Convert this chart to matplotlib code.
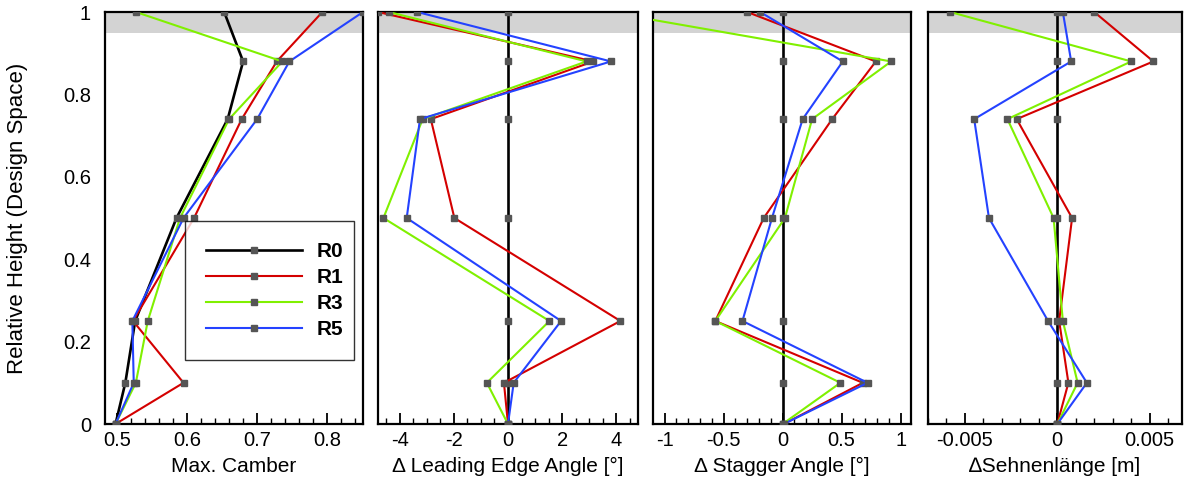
import numpy as np
import matplotlib
matplotlib.use('Agg')
import matplotlib.pyplot as plt
from matplotlib.ticker import MultipleLocator

plt.rcParams['font.family'] = ['Liberation Sans', 'DejaVu Sans']
plt.rcParams['axes.unicode_minus'] = False

# relative blade height of the design sections
height = [1.0, 0.88, 0.74, 0.5, 0.25, 0.1, 0.0]

# max. camber per design
camber_r0 = [0.653, 0.680, 0.658, 0.585, 0.526, 0.512, 0.498]
camber_r1 = [0.793, 0.728, 0.678, 0.610, 0.523, 0.595, 0.498]
camber_r3 = [0.527, 0.736, 0.660, 0.590, 0.544, 0.527, 0.498]
camber_r5 = [0.851, 0.746, 0.700, 0.595, 0.522, 0.524, 0.498]

# delta leading edge angle [deg]
le_r0 = [0, 0, 0, 0, 0, 0, 0]
le_r1 = [-4.8, 3.15, -2.85, -1.98, 4.15, -0.15, 0.0]
le_r3 = [-4.4, 2.9, -3.15, -4.6, 1.53, -0.78, 0.0]
le_r5 = [-3.35, 3.8, -3.25, -3.74, 1.96, 0.21, 0.0]

# delta stagger angle [deg]
st_r0 = [0, 0, 0, 0, 0, 0, 0]
st_r1 = [-0.30, 0.79, 0.42, -0.16, -0.57, 0.68, 0.01]
st_r3 = [-1.48, 0.92, 0.25, 0.02, -0.57, 0.49, 0.0]
st_r5 = [-0.19, 0.51, 0.17, -0.09, -0.34, 0.72, 0.01]

# delta chord length [m]
ch_r0 = [0, 0, 0, 0, 0, 0, 0]
ch_r1 = [0.0020, 0.0052, -0.0022, 0.0008, 0.0001, 0.0006, 0.0]
ch_r3 = [-0.0058, 0.0040, -0.0027, -0.0002, 0.0003, 0.0011, 0.0]
ch_r5 = [0.0003, 0.00075, -0.0045, -0.0037, -0.0005, 0.0016, 0.0]

labels = ['R0', 'R1', 'R3', 'R5']
colors = ['black', '#d40000', '#80f000', '#2442ff']
widths = [1.9, 1.5, 1.5, 1.5]

panels = [
    ([camber_r0, camber_r1, camber_r3, camber_r5], 'Max. Camber',
     (0.483, 0.851), [0.5, 0.6, 0.7, 0.8], ['0.5', '0.6', '0.7', '0.8'], 0.02),
    ([le_r0, le_r1, le_r3, le_r5], '\u0394 Leading Edge Angle [\u00b0]',
     (-4.8, 4.8), [-4, -2, 0, 2, 4], ['-4', '-2', '0', '2', '4'], 0.5),
    ([st_r0, st_r1, st_r3, st_r5], '\u0394 Stagger Angle [\u00b0]',
     (-1.098, 1.088), [-1, -0.5, 0, 0.5, 1], ['-1', '-0.5', '0', '0.5', '1'], 0.1),
    ([ch_r0, ch_r1, ch_r3, ch_r5], '\u2206Sehnenl\u00e4nge [m]',
     (-0.0070, 0.00675), [-0.005, 0, 0.005], ['-0.005', '0', '0.005'], 0.001),
]

lefts = [105, 378, 653, 928]
rights = [363, 638, 911, 1182]
W, H = 1184, 483

fig = plt.figure(figsize=(W / 100, H / 100), dpi=100)

for i, (series, xlabel, xlim, xt, xtl, minor) in enumerate(panels):
    ax = fig.add_axes([lefts[i] / W, 1 - 424 / H, (rights[i] - lefts[i]) / W, 412 / H])
    ax.axhspan(0.95, 1.0, color='#d3d3d3', zorder=0, lw=0)
    for s, lab, c, lw in zip(series, labels, colors, widths):
        ax.plot(s, height, color=c, lw=lw, label=lab, marker='s', ms=5,
                mfc='#555555', mec='#555555', zorder=3)
    ax.set_xlim(*xlim)
    ax.set_ylim(0, 1)
    ax.set_xticks(xt)
    ax.set_xticklabels(xtl)
    ax.xaxis.set_minor_locator(MultipleLocator(minor))
    ax.tick_params(axis='x', which='major', direction='in', length=8, width=1.3,
                   labelsize=14.5, pad=5, top=False)
    ax.tick_params(axis='x', which='minor', direction='in', length=4, width=1.0, top=False)
    ax.set_xlabel(xlabel, fontsize=15, labelpad=5)
    for sp in ax.spines.values():
        sp.set_linewidth(1.6)
    if i == 0:
        ax.set_yticks([0, 0.2, 0.4, 0.6, 0.8, 1.0])
        ax.set_yticklabels(['0', '0.2', '0.4', '0.6', '0.8', '1'])
        ax.tick_params(axis='y', direction='in', length=0, labelsize=14.5, pad=10)
        ax.set_ylabel('Relative Height (Design Space)', fontsize=16)
        ax.yaxis.set_label_coords(-0.30, 0.5)
        leg = ax.legend(loc='lower left', bbox_to_anchor=(0.31, 0.155, 0.655, 0.325),
                        mode='expand', borderaxespad=0, fancybox=False,
                        edgecolor='black', handlelength=4.6, handletextpad=0.7,
                        borderpad=1.0, labelspacing=0.34,
                        prop={'weight': 'bold', 'size': 15})
        leg.get_frame().set_linewidth(1.0)
    else:
        ax.set_yticks([])

fig.savefig('out.png', dpi=100)
